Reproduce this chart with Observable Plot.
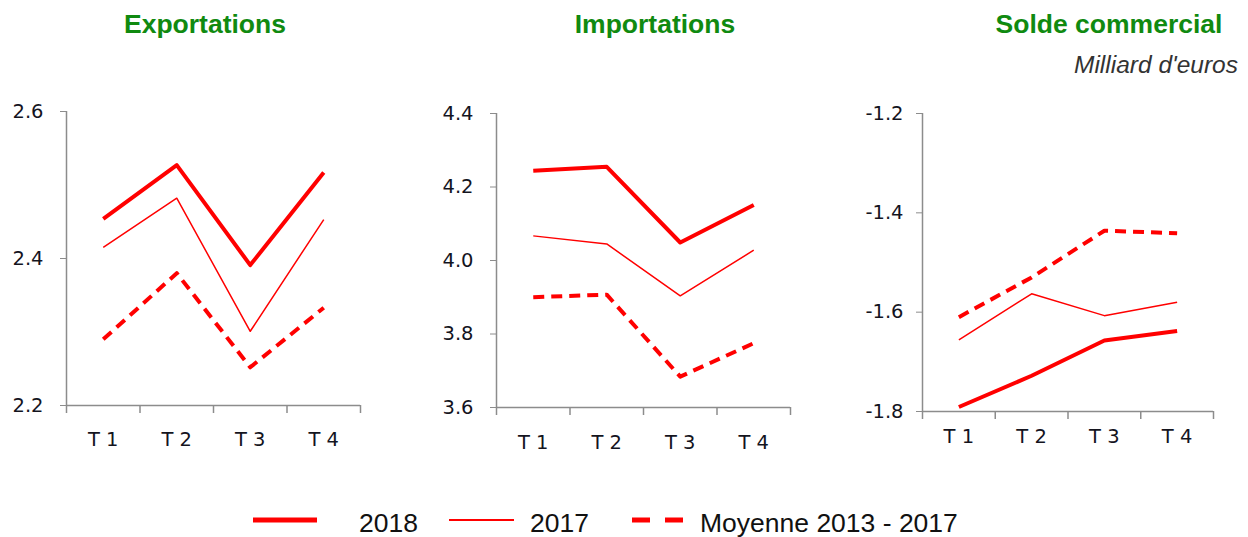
<!DOCTYPE html>
<html>
<head>
<meta charset="utf-8">
<script src="https://cdn.jsdelivr.net/npm/d3@7"></script>
<script src="https://cdn.jsdelivr.net/npm/@observablehq/plot@0.6"></script>
<style>
  html, body { margin: 0; padding: 0; background: #fff; }
  #wrap { position: relative; width: 1248px; height: 537px; overflow: hidden; background: #fff; }
  #wrap > .panel { position: absolute; top: 0; }
  #wrap > svg.overlay { position: absolute; left: 0; top: 0; pointer-events: none; }
</style>
</head>
<body>
<div id="wrap"></div>
<script>
// ---- data ----
const quarters = ["T 1", "T 2", "T 3", "T 4"];
const seriesNames = ["2018", "2017", "Moyenne 2013 - 2017"];
const panelTitles = ["Exportations", "Importations", "Solde commercial"];
const unitLabel = "Milliard d'euros";

const export2018 = [2.454, 2.527, 2.391, 2.517];
const export2017 = [2.415, 2.482, 2.301, 2.453];
const exportAvg  = [2.290, 2.380, 2.252, 2.333];

const import2018 = [4.244, 4.255, 4.049, 4.151];
const import2017 = [4.067, 4.045, 3.904, 4.028];
const importAvg  = [3.900, 3.907, 3.684, 3.775];

const solde2018 = [-1.791, -1.728, -1.657, -1.638];
const solde2017 = [-1.656, -1.563, -1.607, -1.580];
const soldeAvg  = [-1.610, -1.530, -1.436, -1.441];

const exportTicks = [2.2, 2.4, 2.6];
const importTicks = [3.6, 3.8, 4.0, 4.2, 4.4];
const soldeTicks  = [-1.8, -1.6, -1.4, -1.2];

// ---- styles ----
const RED = "#ff0000";
const AXIS = "#8c8c8c";
const LABEL = "#14141e";
const styleFor = {
  "2018": {strokeWidth: 4},
  "2017": {strokeWidth: 1.5},
  "Moyenne 2013 - 2017": {strokeWidth: 4, strokeDasharray: "11,7"}
};

function rows(vals, name) {
  return vals.map((v, i) => ({q: i + 0.5, v, s: name}));
}

function panel(cfg) {
  const {series, ticks, left, width, marginLeft, marginRight, marginTop, marginBottom, yPad, xPad} = cfg;
  const lo = ticks[0], hi = ticks[ticks.length - 1];
  const lineMarks = series.map((vals, k) => {
    const name = seriesNames[k];
    return Plot.line(rows(vals, name), {
      x: "q", y: "v", stroke: RED, strokeLinejoin: "round", strokeLinecap: "butt",
      ...styleFor[name]
    });
  });
  const svg = Plot.plot({
    width, height: 470,
    marginLeft, marginRight, marginTop, marginBottom,
    x: {domain: [0, quarters.length], label: null},
    y: {domain: [lo, hi], label: null},
    style: {fontFamily: "DejaVu Sans, Verdana, sans-serif", background: "transparent", overflow: "visible"},
    marks: [
      Plot.axisY({ticks, tickSize: 6, tickPadding: yPad, stroke: AXIS, fill: LABEL,
        fontSize: 19.5, tickFormat: d => d.toFixed(1), label: null}),
      Plot.axisX({ticks: d3.range(quarters.length + 1), tickSize: 8, stroke: AXIS,
        strokeWidth: 1.5, tickFormat: () => "", label: null}),
      Plot.axisX({ticks: quarters.map((_, i) => i + 0.5), tickSize: 0, tickPadding: xPad,
        fill: LABEL, fontSize: 19.5, tickFormat: d => quarters[Math.floor(d)], label: null}),
      Plot.ruleX([0], {stroke: AXIS, strokeWidth: 1.5}),
      Plot.ruleY([lo], {stroke: AXIS, strokeWidth: 1.5}),
      ...lineMarks
    ]
  });
  svg.classList.add("panel");
  svg.style.left = left + "px";
  return svg;
}

const wrap = document.getElementById("wrap");
wrap.appendChild(panel({series: [export2018, export2017, exportAvg], ticks: exportTicks,
  left: 0, width: 420, marginLeft: 66, marginRight: 60, marginTop: 111, marginBottom: 65, yPad: 17, xPad: 27}));
wrap.appendChild(panel({series: [import2018, import2017, importAvg], ticks: importTicks,
  left: 420, width: 400, marginLeft: 76, marginRight: 30, marginTop: 113, marginBottom: 63, yPad: 17, xPad: 28}));
wrap.appendChild(panel({series: [solde2018, solde2017, soldeAvg], ticks: soldeTicks,
  left: 830, width: 418, marginLeft: 92, marginRight: 35, marginTop: 113, marginBottom: 59, yPad: 13, xPad: 18}));

// ---- titles, unit label and legend ----
const ov = d3.create("svg").attr("class", "overlay").attr("width", 1248).attr("height", 537);
const titleX = [205, 655, 1109];
ov.selectAll("text.title").data(panelTitles).join("text")
  .attr("class", "title")
  .attr("x", (d, i) => titleX[i]).attr("y", 33)
  .attr("text-anchor", "middle")
  .attr("font-family", "Liberation Sans, Arial, sans-serif")
  .attr("font-weight", "bold").attr("font-size", 26.5).attr("fill", "#108a10")
  .text(d => d);
ov.append("text").attr("x", 1238).attr("y", 73).attr("text-anchor", "end")
  .attr("font-family", "Liberation Sans, Arial, sans-serif").attr("font-style", "italic")
  .attr("font-size", 24.5).attr("fill", "#333").text(unitLabel);

const legendItems = [
  {x1: 253, x2: 317, tx: 359, w: 5, dash: null},
  {x1: 449, x2: 514, tx: 530, w: 2, dash: null},
  {x1: 632, x2: 683, tx: 700, w: 5, dash: "18,15"}
];
const lg = ov.append("g");
legendItems.forEach((it, i) => {
  const l = lg.append("line").attr("x1", it.x1).attr("x2", it.x2).attr("y1", 520).attr("y2", 520)
    .attr("stroke", RED).attr("stroke-width", it.w);
  if (it.dash) l.attr("stroke-dasharray", it.dash);
  lg.append("text").attr("x", it.tx).attr("y", 532)
    .attr("font-family", "Liberation Sans, Arial, sans-serif").attr("font-size", 26.5)
    .attr("fill", "#111").text(seriesNames[i]);
});
wrap.appendChild(ov.node());
</script>
</body>
</html>
